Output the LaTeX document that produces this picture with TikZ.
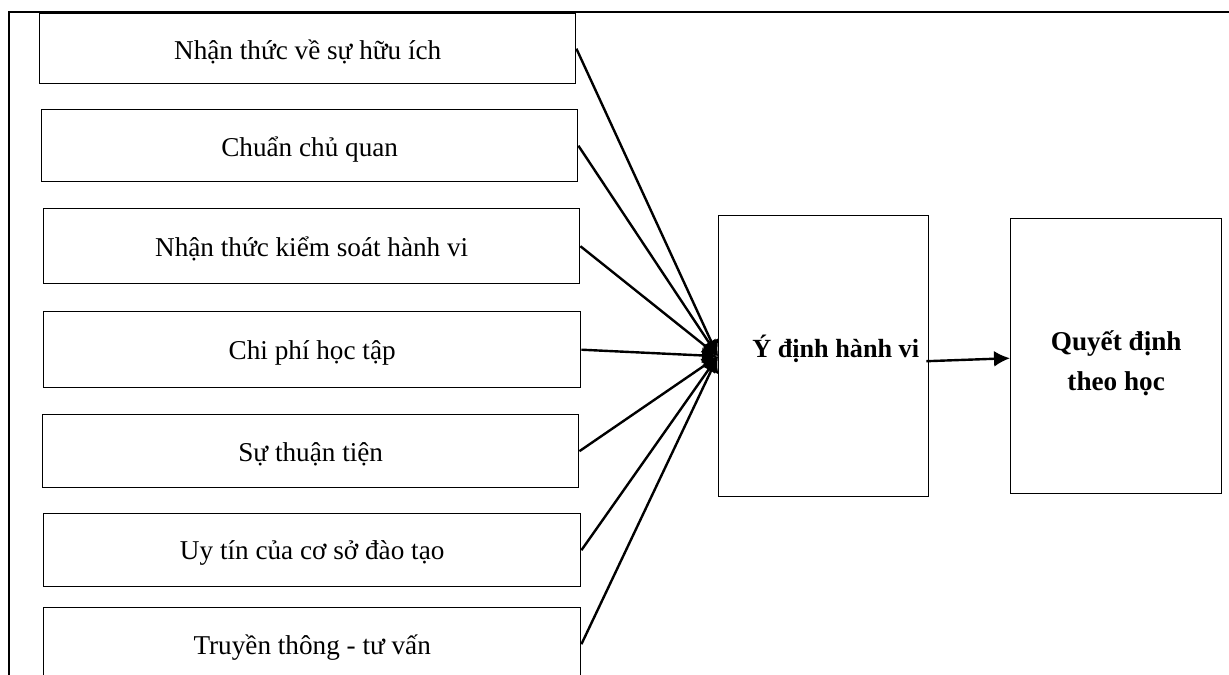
\documentclass[tikz,border=0pt]{standalone}
\usepackage{fontspec}
\setmainfont{Liberation Serif}
\usetikzlibrary{arrows.meta,calc}
\newcommand\shiftdown[2]{\raisebox{-#1}[\height][\depth]{#2}}
\begin{document}
\begin{tikzpicture}[x=0.5pt,y=-0.5pt,
  box/.style 2 args={draw,line width=0.7pt,anchor=north west,inner sep=0pt,
    minimum width=#1*0.5pt,minimum height=#2*0.5pt,align=center,
    font=\fontsize{13.6}{20}\selectfont},
  link/.style={line width=1.2pt,-{Latex[length=8pt,width=8pt]}},
  frame/.style={line width=1pt}]
\useasboundingbox (0,0) rectangle (1229,674);
\clip (0,0) rectangle (1229,674);
\draw[frame] (1229,12.5) -- (9,12.5) -- (9,680);
\node[box={536}{70}] (b1) at (39,13) {\shiftdown{1.5pt}{Nhận thức về sự hữu ích}};
\node[box={536}{72}] (b2) at (41,109) {\shiftdown{2pt}{Chuẩn chủ quan}};
\node[box={536}{75}] (b3) at (43,208) {\shiftdown{1.5pt}{Nhận thức kiểm soát hành vi}};
\node[box={537}{76}] (b4) at (43,311) {\shiftdown{1.5pt}{Chi phí học tập}};
\node[box={536}{73}] (b5) at (42,414) {\shiftdown{1.5pt}{Sự thuận tiện}};
\node[box={537}{73}] (b6) at (43,513) {\shiftdown{1.5pt}{Uy tín của cơ sở đào tạo}};
\node[box={537}{73}] (b7) at (43,607) {\shiftdown{1.5pt}{Truyền thông - tư vấn}};
\node[box={210}{281}] (mid) at (718,215) {\hspace*{12pt}\shiftdown{-3.5pt}{\fontsize{13.1}{20}\selectfont\bfseries Ý định hành vi}};
\node[box={211}{275}] (dec) at (1010,218) {\shiftdown{3pt}{\bfseries\begin{tabular}{@{}c@{}}Quyết định\\theo học\end{tabular}}};
\foreach \i in {1,...,7}{\draw[link] (b\i.east) -- (mid.west);}
\draw[link] ($(mid.east)+(-3,5)$) -- ($(dec.west)+(0,2)$);
\end{tikzpicture}
\end{document}
